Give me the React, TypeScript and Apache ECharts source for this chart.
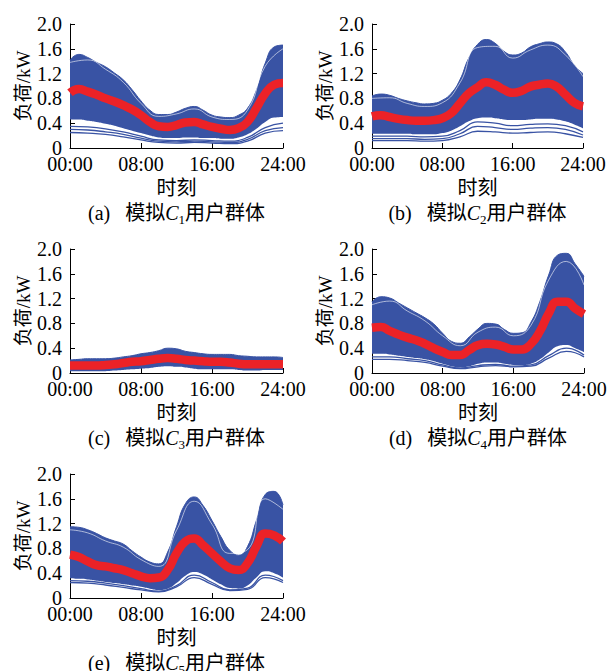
import React, { useEffect, useRef } from 'react';
import * as echarts from 'echarts';

// ---- categories / ticks ----
const HOURS = ['00:00','01:00','02:00','03:00','04:00','05:00','06:00','07:00','08:00','09:00','10:00','11:00','12:00','13:00','14:00','15:00','16:00','17:00','18:00','19:00','20:00','21:00','22:00','23:00','24:00'];
const OUT_HOURS = [0, 2, 4, 6, 8, 10, 12, 14, 16, 18, 20, 22, 24];
const Y_MIN = 0;
const Y_MAX = 2.0;
const Y_STEP = 0.4;

// ---- C1 ----
const C1_MEAN = [0.89,0.95,0.91,0.86,0.80,0.75,0.69,0.62,0.53,0.42,0.35,0.34,0.37,0.41,0.42,0.38,0.34,0.31,0.29,0.32,0.42,0.64,0.88,1.02,1.05];
const C1_HI = [1.42,1.51,1.46,1.38,1.31,1.21,1.10,0.94,0.76,0.61,0.54,0.54,0.58,0.64,0.67,0.61,0.53,0.50,0.49,0.53,0.64,0.93,1.37,1.63,1.66];
const C1_LO = [0.46,0.46,0.44,0.42,0.39,0.36,0.32,0.28,0.24,0.20,0.17,0.16,0.16,0.17,0.17,0.16,0.16,0.15,0.15,0.17,0.22,0.31,0.42,0.49,0.50];
const C1_OUT = [
  [0.35,0.34,0.31,0.26,0.19,0.13,0.12,0.13,0.12,0.11,0.17,0.33,0.40],
  [0.30,0.29,0.26,0.22,0.16,0.11,0.10,0.11,0.10,0.09,0.14,0.28,0.33],
  [0.25,0.24,0.22,0.18,0.13,0.09,0.08,0.09,0.08,0.07,0.11,0.24,0.28],
];
const C1_TOPWHITE = [1.38,1.42,1.27,1.06,0.72,0.51,0.55,0.63,0.50,0.46,0.61,1.32,1.60];

// ---- C2 ----
const C2_MEAN = [0.51,0.53,0.50,0.47,0.45,0.44,0.44,0.45,0.48,0.56,0.72,0.88,0.98,1.06,1.02,0.94,0.89,0.92,0.99,1.02,1.04,0.99,0.86,0.73,0.67];
const C2_HI = [0.84,0.87,0.85,0.80,0.76,0.73,0.71,0.72,0.77,0.88,1.10,1.45,1.67,1.75,1.69,1.56,1.50,1.53,1.63,1.68,1.71,1.68,1.55,1.34,1.20];
const C2_LO = [0.23,0.23,0.23,0.23,0.23,0.22,0.22,0.22,0.24,0.28,0.35,0.43,0.48,0.49,0.48,0.46,0.45,0.45,0.46,0.47,0.47,0.46,0.43,0.38,0.32];
const C2_OUT = [
  [0.19,0.19,0.19,0.18,0.19,0.28,0.42,0.40,0.36,0.38,0.39,0.36,0.26],
  [0.15,0.15,0.15,0.14,0.15,0.23,0.35,0.33,0.30,0.32,0.33,0.30,0.21],
  [0.12,0.12,0.12,0.11,0.12,0.18,0.27,0.26,0.24,0.25,0.26,0.23,0.17],
];
const C2_TOPWHITE = [0.80,0.81,0.72,0.67,0.73,1.05,1.62,1.64,1.45,1.58,1.66,1.50,1.15];

// ---- C3 ----
const C3_MEAN = [0.12,0.12,0.12,0.12,0.13,0.14,0.16,0.18,0.19,0.21,0.23,0.24,0.23,0.21,0.20,0.19,0.18,0.18,0.17,0.15,0.14,0.14,0.14,0.14,0.14];
const C3_HI = [0.21,0.22,0.23,0.23,0.23,0.24,0.26,0.28,0.31,0.33,0.36,0.40,0.39,0.35,0.33,0.31,0.30,0.30,0.30,0.28,0.27,0.26,0.26,0.26,0.25];
const C3_LO = [0.03,0.03,0.03,0.03,0.03,0.04,0.05,0.06,0.07,0.08,0.10,0.11,0.10,0.09,0.07,0.06,0.06,0.06,0.06,0.05,0.04,0.04,0.05,0.05,0.05];
const C3_OUT: number[][] = [];
const C3_TOPWHITE: number[] = [];

// ---- C4 ----
const C4_MEAN = [0.73,0.74,0.68,0.62,0.57,0.53,0.47,0.40,0.34,0.29,0.29,0.37,0.45,0.47,0.46,0.42,0.38,0.38,0.47,0.67,0.96,1.15,1.15,1.04,0.95];
const C4_HI = [1.15,1.23,1.21,1.13,1.05,0.97,0.89,0.79,0.64,0.51,0.48,0.58,0.71,0.80,0.79,0.70,0.64,0.65,0.82,1.15,1.58,1.90,1.93,1.76,1.56];
const C4_LO = [0.31,0.31,0.30,0.28,0.26,0.24,0.22,0.19,0.15,0.11,0.09,0.11,0.15,0.17,0.17,0.15,0.13,0.13,0.15,0.22,0.33,0.43,0.45,0.40,0.34];
const C4_OUT = [
  [0.26,0.26,0.23,0.20,0.13,0.08,0.12,0.14,0.11,0.13,0.28,0.40,0.29],
  [0.22,0.22,0.20,0.17,0.11,0.07,0.10,0.12,0.10,0.11,0.24,0.35,0.26],
];
const C4_TOPWHITE = [1.10,1.16,1.00,0.84,0.60,0.44,0.66,0.74,0.60,0.77,1.50,1.80,1.42];

// ---- C5 ----
const C5_MEAN = [0.70,0.66,0.59,0.53,0.51,0.48,0.45,0.40,0.35,0.32,0.33,0.45,0.72,0.91,0.96,0.85,0.72,0.59,0.48,0.45,0.56,0.83,1.04,1.01,0.91];
const C5_HI = [1.15,1.14,1.10,1.04,0.97,0.92,0.87,0.76,0.66,0.58,0.55,0.74,1.15,1.52,1.63,1.49,1.25,0.99,0.77,0.69,0.83,1.25,1.67,1.72,1.50];
const C5_LO = [0.32,0.31,0.30,0.28,0.26,0.24,0.22,0.20,0.18,0.15,0.13,0.15,0.24,0.36,0.42,0.38,0.30,0.22,0.16,0.15,0.20,0.33,0.43,0.40,0.33];
const C5_OUT = [
  [0.28,0.27,0.24,0.20,0.15,0.11,0.20,0.37,0.25,0.13,0.16,0.37,0.28],
  [0.25,0.24,0.21,0.17,0.13,0.10,0.18,0.33,0.22,0.12,0.14,0.33,0.25],
];
const C5_TOPWHITE = [1.10,1.05,0.92,0.82,0.62,0.51,1.09,1.56,1.19,0.72,0.78,1.60,1.43];

const PANEL_LABELS = ['a', 'b', 'c', 'd', 'e'];
const PANEL_SUBS = ['1', '2', '3', '4', '5'];

const PANELS = [
  { mean: C1_MEAN, hi: C1_HI, lo: C1_LO, out: C1_OUT, top: C1_TOPWHITE },
  { mean: C2_MEAN, hi: C2_HI, lo: C2_LO, out: C2_OUT, top: C2_TOPWHITE },
  { mean: C3_MEAN, hi: C3_HI, lo: C3_LO, out: C3_OUT, top: C3_TOPWHITE },
  { mean: C4_MEAN, hi: C4_HI, lo: C4_LO, out: C4_OUT, top: C4_TOPWHITE },
  { mean: C5_MEAN, hi: C5_HI, lo: C5_LO, out: C5_OUT, top: C5_TOPWHITE },
];

// ---- layout / style ----
const GRIDS = [
  { left: 70, top: 24, width: 213, height: 124 },
  { left: 372, top: 24, width: 211, height: 124 },
  { left: 70, top: 249, width: 213, height: 124 },
  { left: 372, top: 249, width: 212, height: 124 },
  { left: 70, top: 474, width: 213, height: 124 },
];
const CAPTION_Y = [213, 213, 438, 438, 663];
const BLUE = '#3953a4';
const RED = '#ec2227';
const FONT = '"Liberation Serif", "Times New Roman", "Noto Sans CJK SC", serif';
const SMOOTH = 0.5;

export default function App() {
  const ref = useRef<HTMLDivElement>(null);
  useEffect(() => {
    document.body.style.margin = '0';
    if (!ref.current) return;
    const chart = echarts.init(ref.current, undefined, { renderer: 'svg' });

    const xAxis: any[] = [];
    const yAxis: any[] = [];
    const series: any[] = [];
    const graphic: any[] = [];

    PANELS.forEach((p, i) => {
      xAxis.push({
        gridIndex: i,
        type: 'category',
        data: HOURS,
        boundaryGap: false,
        axisLine: { lineStyle: { color: '#000', width: 1 } },
        axisTick: { inside: true, interval: 7, length: 5, lineStyle: { color: '#000' } },
        axisLabel: { interval: 7, color: '#000', fontSize: 20, fontFamily: FONT, margin: 6 },
        splitLine: { show: false },
        name: '时刻',
        nameLocation: 'middle',
        nameGap: 30,
        nameTextStyle: { color: '#000', fontSize: 20, fontFamily: FONT },
      });
      yAxis.push({
        gridIndex: i,
        type: 'value',
        min: Y_MIN,
        max: Y_MAX,
        interval: Y_STEP,
        axisLine: { show: true, lineStyle: { color: '#000', width: 1 } },
        axisTick: { show: true, inside: true, length: 5, lineStyle: { color: '#000' } },
        splitLine: { show: false },
        axisLabel: {
          color: '#000', fontSize: 20, fontFamily: FONT, margin: 8,
          formatter: (v: number) => (v === 0 ? '0' : v.toFixed(1)),
        },
        name: '负荷/kW',
        nameLocation: 'middle',
        nameGap: 37,
        nameTextStyle: { color: '#000', fontSize: 19, fontFamily: FONT },
      });

      const stackId = 'band' + i;
      series.push({
        type: 'line', xAxisIndex: i, yAxisIndex: i, stack: stackId,
        data: p.lo, smooth: SMOOTH, symbol: 'none', silent: true,
        lineStyle: { opacity: 0, width: 0 },
      });
      series.push({
        type: 'line', xAxisIndex: i, yAxisIndex: i, stack: stackId,
        data: p.hi.map((h, k) => +(h - p.lo[k]).toFixed(3)),
        smooth: SMOOTH, symbol: 'none', silent: true,
        lineStyle: { color: BLUE, width: 1 },
        areaStyle: { color: BLUE, opacity: 1 },
      });
      if (p.top.length) {
        series.push({
          type: 'line', xAxisIndex: i, yAxisIndex: i,
          data: p.top.map((v, k) => [OUT_HOURS[k], v]),
          smooth: SMOOTH, symbol: 'none', silent: true,
          lineStyle: { color: '#ffffff', width: 0.7, opacity: 0.85 },
        });
      }
      p.out.forEach((o) => {
        series.push({
          type: 'line', xAxisIndex: i, yAxisIndex: i,
          data: o.map((v, k) => [OUT_HOURS[k], v]),
          smooth: SMOOTH, symbol: 'none', silent: true,
          lineStyle: { color: BLUE, width: 1.3 },
        });
      });
      series.push({
        type: 'line', xAxisIndex: i, yAxisIndex: i, z: 5,
        data: p.mean, smooth: SMOOTH, symbol: 'none', silent: true,
        lineStyle: { color: RED, width: 8.5 },
      });

      const g = GRIDS[i];
      graphic.push({
        type: 'text',
        x: g.left + g.width / 2,
        y: CAPTION_Y[i],
        style: {
          text: `{n|(${PANEL_LABELS[i]})\u2002 模拟}{c|C}{s|${PANEL_SUBS[i]}}{n|用户群体}`,
          align: 'center',
          verticalAlign: 'middle',
          fill: '#000',
          rich: {
            n: { fontSize: 20, fontFamily: FONT, fill: '#000', lineHeight: 26 },
            c: { fontSize: 20, fontFamily: FONT, fontStyle: 'italic', fill: '#000', lineHeight: 26 },
            s: { fontSize: 13, fontFamily: FONT, fill: '#000', lineHeight: 14, verticalAlign: 'bottom' },
          },
        },
      });
    });

    chart.setOption({
      animation: false,
      backgroundColor: '#fff',
      grid: GRIDS.map((g) => ({ ...g, containLabel: false })),
      xAxis,
      yAxis,
      series,
      graphic,
    });
    return () => chart.dispose();
  }, []);
  return <div ref={ref} style={{ width: 610, height: 671 }} />;
}
